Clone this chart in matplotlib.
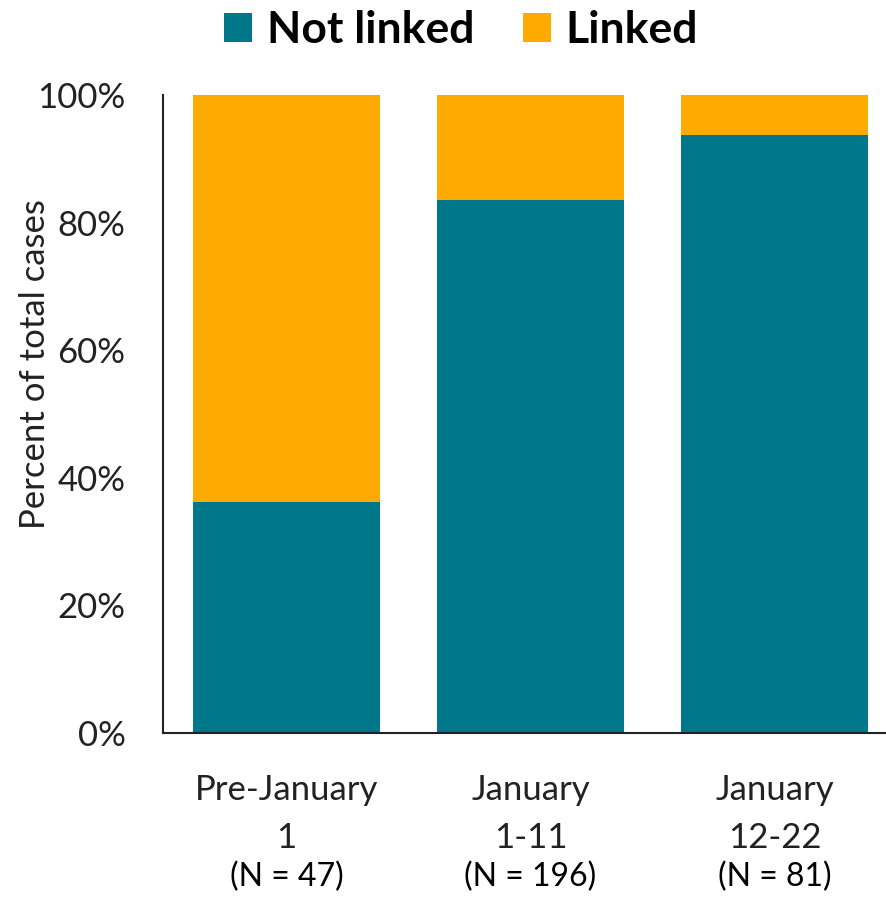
import numpy as np
import matplotlib.pyplot as plt

periods = ["Pre-January", "January", "January"]
days = ["1", "1-11", "12-22"]
counts = ["(N = 47)", "(N = 196)", "(N = 81)"]
not_linked = np.array([36.2, 83.6, 93.8])
linked = 100 - not_linked

teal = "#00778A"
orange = "#FFAA00"
plt.rcParams["font.family"] = ["Lato", "DejaVu Sans"]

W, H = 887, 897
fig = plt.figure(figsize=(W / 100, H / 100), dpi=100)
ax = fig.add_axes([163 / W, 164 / H, 1 - 163 / W, 638 / H])

x = np.arange(len(periods))
ax.bar(x, not_linked, width=0.766, color=teal, label="Not linked")
ax.bar(x, linked, width=0.766, bottom=not_linked, color=orange, label="Linked")

ax.set_xlim(-0.506, 2.461)
ax.set_ylim(0, 100)
ax.set_yticks([0, 20, 40, 60, 80, 100])
ax.set_yticklabels([f"{v}%" for v in range(0, 101, 20)], fontsize=25, color="#222222")
ax.tick_params(axis="y", length=0, pad=27)
ax.set_xticks([])

for s in ["top", "right"]:
    ax.spines[s].set_visible(False)
for s in ["left", "bottom"]:
    ax.spines[s].set_linewidth(1.5)
    ax.spines[s].set_color("#222222")

# category labels below the axis, positioned in pixels below the baseline
tr = ax.get_xaxis_transform()
for i in x:
    ax.text(i, -57 / 638, periods[i], transform=tr, ha="center", va="center",
            fontsize=25, color="#222222")
    ax.text(i, -105 / 638, days[i], transform=tr, ha="center", va="center",
            fontsize=25, color="#222222")
    ax.text(i, -144 / 638, counts[i], transform=tr, ha="center", va="center",
            fontsize=23, color="black")

fig.text(35 / W, 1 - 364 / H, "Percent of total cases", rotation=90,
         ha="center", va="center", fontsize=25, color="#222222")

fig.legend(loc="center", bbox_to_anchor=(461 / W, 1 - 30 / H), ncol=2, frameon=False,
           prop={"size": 32, "weight": "bold"}, handlelength=0.63, handleheight=0.65,
           handletextpad=0.34, columnspacing=1.08)

fig.savefig("out.png", dpi=100)
